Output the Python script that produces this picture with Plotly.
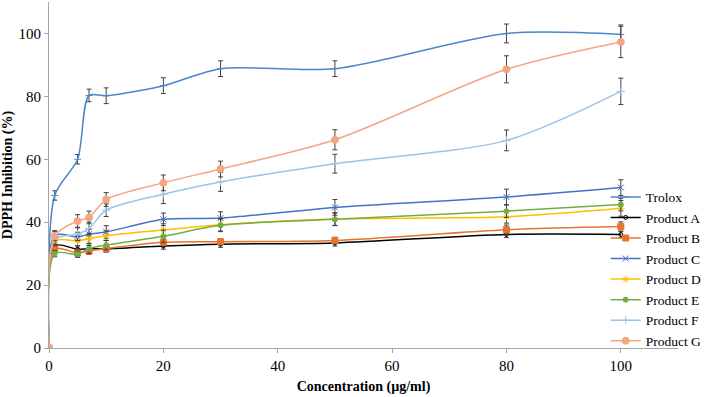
import plotly.graph_objects as go

conc = [0, 1, 5, 7, 10, 20, 30, 50, 80, 100]

series_names = ["Trolox", "Product A", "Product B", "Product C", "Product D",
                "Product E", "Product F", "Product G"]

trolox = [0, 48.5, 60.0, 80.3, 80.2, 83.4, 88.8, 88.8, 100.0, 99.7]
prod_a = [0, 32.5, 31.4, 31.6, 31.5, 32.4, 33.0, 33.4, 36.1, 36.1]
prod_b = [0, 31.5, 30.2, 30.8, 31.6, 33.6, 33.8, 34.2, 37.6, 38.6]
prod_c = [0, 35.8, 35.3, 36.2, 36.9, 40.9, 41.3, 44.7, 48.0, 51.0]
prod_d = [0, 34.0, 34.0, 34.8, 35.7, 37.5, 39.2, 41.0, 41.7, 44.4]
prod_e = [0, 30.0, 29.8, 31.6, 32.7, 35.5, 39.0, 40.9, 43.5, 45.6]
prod_f = [0, 34.5, 36.2, 38.0, 43.8, 48.9, 52.8, 58.6, 66.0, 81.6]
prod_g = [0, 35.6, 40.4, 41.5, 47.2, 52.5, 56.9, 66.2, 88.6, 97.3]

err_trolox = [0, 1.5, 1.5, 2.0, 2.5, 2.5, 2.5, 2.5, 3.0, 3.0]
err_a = [0, 1.0, 1.0, 1.0, 1.0, 1.0, 1.0, 1.0, 1.0, 1.0]
err_b = [0, 1.0, 1.0, 1.0, 1.0, 1.0, 1.0, 1.0, 1.5, 1.5]
err_c = [0, 1.5, 1.5, 1.5, 2.0, 2.0, 2.0, 2.5, 2.5, 2.5]
err_d = [0, 1.5, 1.5, 1.5, 1.5, 2.0, 2.0, 2.0, 2.0, 2.5]
err_e = [0, 1.0, 1.0, 1.5, 1.5, 2.0, 2.0, 2.0, 2.0, 2.0]
err_f = [0, 1.5, 2.0, 2.0, 2.0, 3.0, 3.0, 3.0, 3.3, 4.2]
err_g = [0, 1.5, 2.0, 2.0, 2.2, 2.5, 2.5, 3.2, 4.3, 5.0]

x_ticks = [0, 20, 40, 60, 80, 100]
y_ticks = [0, 20, 40, 60, 80, 100]

values = [trolox, prod_a, prod_b, prod_c, prod_d, prod_e, prod_f, prod_g]
errors = [err_trolox, err_a, err_b, err_c, err_d, err_e, err_f, err_g]
colors = ["#4A86C8", "#000000", "#E8732A", "#4472C4", "#FFC000", "#70AD47",
          "#9DC3E6", "#F4A582"]
symbols = ["line-ew-open", "circle-open", "square", "x-thin-open", "asterisk-open",
           "circle", "cross-thin-open", "circle"]
sizes = [5, 4, 6, 6, 6, 5, 6, 7]

fig = go.Figure()
for name, vals, errs, col, sym, sz in zip(series_names, values, errors, colors, symbols, sizes):
    fig.add_trace(go.Scatter(
        x=conc, y=vals, name=name, mode="lines+markers",
        line=dict(color=col, width=1.5, shape="spline", smoothing=0.8),
        marker=dict(symbol=sym, size=sz, color=col, line=dict(color=col, width=1)),
        error_y=dict(type="data", array=errs, visible=True, color="#404040",
                     thickness=1, width=2.5),
    ))

font_family = "Liberation Serif"
tick_font = dict(family=font_family, size=15, color="#000000")
fig.update_layout(
    width=708, height=397,
    margin=dict(l=49, r=29.5, t=1.5, b=49, autoexpand=False),
    paper_bgcolor="white", plot_bgcolor="white",
    font=dict(family=font_family, size=14, color="#000000"),
    showlegend=True,
    legend=dict(x=0.885, y=0.228, xanchor="left", yanchor="middle",
                bgcolor="rgba(0,0,0,0)", itemwidth=30, tracegroupgap=0,
                font=dict(family=font_family, size=13.5, color="#000000")),
    xaxis=dict(range=[0, 110], tickvals=x_ticks, showgrid=False, zeroline=False,
               showline=True, linecolor="#A6A6A6", linewidth=1, automargin=False,
               ticks="outside", ticklen=4, tickcolor="#A6A6A6", tickfont=tick_font,
               title=dict(text="<b>Concentration (µg/ml)</b>", standoff=8,
                          font=dict(family=font_family, size=14))),
    yaxis=dict(range=[0, 110], tickvals=y_ticks, showgrid=False, zeroline=False,
               showline=True, linecolor="#A6A6A6", linewidth=1, automargin=False,
               ticks="outside", ticklen=4, tickcolor="#A6A6A6", tickfont=tick_font,
               title=dict(text="<b>DPPH Inhibition (%)</b>", standoff=6,
                          font=dict(family=font_family, size=14))),
)

fig.write_html("out.html", config={"displayModeBar": False},
               post_script="document.body.style.margin='0px';document.body.style.overflow='hidden';")
